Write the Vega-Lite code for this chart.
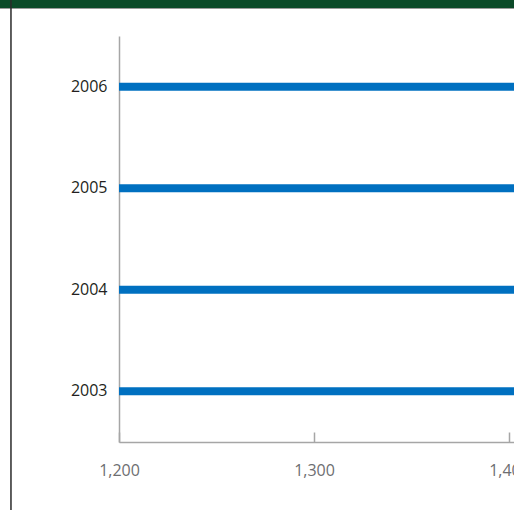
{
  "$schema": "https://vega.github.io/schema/vega-lite/v6.json",
  "width": 514,
  "height": 510,
  "autosize": {"type": "none"},
  "padding": 0,
  "background": "#ffffff",
  "view": {
    "stroke": null,
    "fill": {
      "gradient": "linear",
      "x1": 0, "y1": 0, "x2": 0, "y2": 1,
      "stops": [
        {"offset": 0, "color": "#0b4a28"},
        {"offset": 0.0157, "color": "#0b4a28"},
        {"offset": 0.0157, "color": "#9a9a9a"},
        {"offset": 0.0186, "color": "#9a9a9a"},
        {"offset": 0.0186, "color": "#ffffff"},
        {"offset": 1, "color": "#ffffff"}
      ]
    }
  },
  "data": {
    "values": [
      {"year": "2006", "value": 1495},
      {"year": "2005", "value": 1470},
      {"year": "2004", "value": 1448},
      {"year": "2003", "value": 1425}
    ]
  },
  "layer": [
    {
      "data": {"values": [{}]},
      "mark": {"type": "rule", "color": "#2b2b2b", "strokeWidth": 1.5},
      "encoding": {
        "x": {"datum": 1144.6, "type": "quantitative"}
      }
    },
    {
      "mark": {"type": "bar", "color": "#0070c0", "clip": true},
      "encoding": {
        "y": {
          "field": "year",
          "type": "nominal",
          "sort": ["2006", "2005", "2004", "2003"],
          "scale": {"range": [36, 442], "paddingInner": 0.92, "paddingOuter": 0.46},
          "axis": {
            "title": null,
            "offset": -119,
            "domainColor": "#a6a6a6",
            "domainWidth": 1.5,
            "ticks": false,
            "grid": false,
            "labelPadding": 12,
            "labelColor": "#231f20",
            "labelFont": "Open Sans",
            "labelFontSize": 16
          }
        },
        "x": {
          "field": "value",
          "type": "quantitative",
          "scale": {"domain": [1200, 1410], "range": [119, 528.5], "nice": false, "zero": false},
          "axis": {
            "title": null,
            "values": [1200, 1300, 1400],
            "format": ",.0f",
            "offset": -68,
            "grid": false,
            "domainColor": "#a6a6a6",
            "domainWidth": 1.5,
            "tickColor": "#a6a6a6",
            "tickWidth": 1.5,
            "tickSize": -10,
            "labelPadding": 30,
            "labelFlush": false,
            "labelOverlap": false,
            "labelColor": "#6d6e71",
            "labelFont": "Open Sans",
            "labelFontSize": 16
          }
        },
        "x2": {"datum": 1200}
      }
    }
  ]
}
